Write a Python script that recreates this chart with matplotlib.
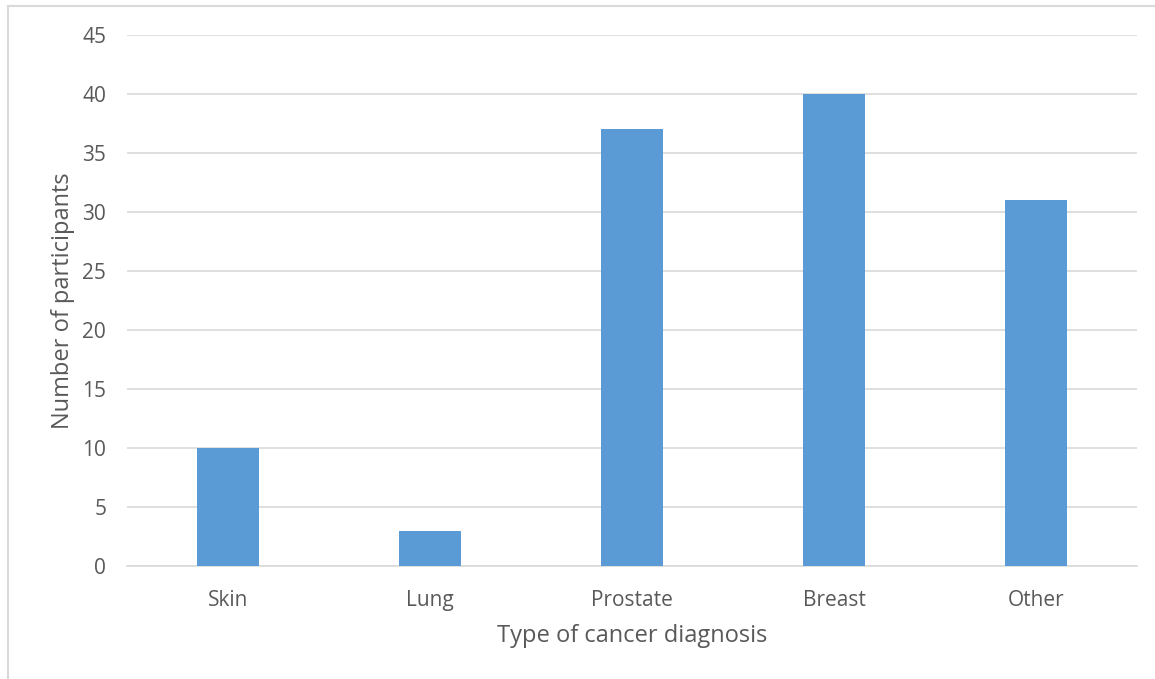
import matplotlib
matplotlib.use("Agg")
import matplotlib.pyplot as plt
from matplotlib.lines import Line2D

categories = ["Skin", "Lung", "Prostate", "Breast", "Other"]
values = [10, 3, 37, 40, 31]
yticks = [0, 5, 10, 15, 20, 25, 30, 35, 40, 45]

plt.rcParams['font.family'] = ['Open Sans', 'DejaVu Sans']
txt = '#595959'

fig = plt.figure(figsize=(11.55, 6.79), dpi=100)
ax = fig.add_axes([127/1155, 1-566/679, (1137-127)/1155, (566-35)/679])

x = list(range(len(categories)))
ax.bar(x, values, width=0.307, color='#5b9bd5', zorder=3)
ax.set_xlim(-0.5, len(categories)-0.5)
ax.set_ylim(0, 45)
ax.set_yticks(yticks)
ax.set_xticks(x)
ax.set_xticklabels(categories)
ax.grid(axis='y', color='#d9d9d9', linewidth=1.2, zorder=0)
for s in ['top', 'right', 'left']:
    ax.spines[s].set_visible(False)
ax.spines['bottom'].set_color('#d9d9d9')
ax.spines['bottom'].set_linewidth(1.2)
ax.tick_params(axis='both', length=0, labelsize=15, colors=txt)
ax.tick_params(axis='x', pad=17)
ax.tick_params(axis='y', pad=15)
ax.set_xlabel('Type of cancer diagnosis', fontsize=17, color=txt, labelpad=10)
ax.set_ylabel('Number of participants', fontsize=17, color=txt, labelpad=5)

# outer frame lines (top and left)
fig.add_artist(Line2D([8/1155, 1], [1-6/679, 1-6/679], transform=fig.transFigure, color='#d9d9d9', lw=1.5))
fig.add_artist(Line2D([8/1155, 8/1155], [0, 1-6/679], transform=fig.transFigure, color='#d9d9d9', lw=1.5))

fig.savefig('out.png', dpi=100)
